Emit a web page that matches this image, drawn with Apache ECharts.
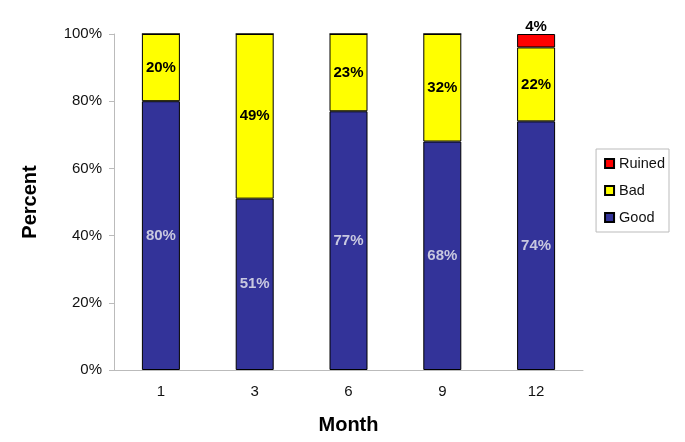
<!DOCTYPE html>
<html>
<head>
<meta charset="utf-8">
<script src="https://cdn.jsdelivr.net/npm/echarts@6/dist/echarts.min.js"></script>
<style>
html, body { margin: 0; padding: 0; background: #fff; }
#chart { width: 685px; height: 442px; }
</style>
</head>
<body>
<div id="chart"></div>
<script>
var months = ['1', '3', '6', '9', '12'];
var good = [80, 51, 77, 68, 74];
var bad = [20, 49, 23, 32, 22];
var ruined = [0, 0, 0, 0, 4];
var yTicks = [0, 20, 40, 60, 80, 100];

var font = 'Liberation Sans, Arial, Helvetica, sans-serif';

function pct(p) {
	return p.value > 0 ? p.value + '%' : '';
}

var myChart = echarts.init(document.getElementById('chart'));
myChart.setOption({
	animation : false,
	textStyle : { fontFamily : font },
	grid : { left : 114, right : 102, top : 34, bottom : 72 },
	legend : {
		orient : 'vertical',
		right : 16,
		top : 149,
		data : [ 'Ruined', 'Bad', 'Good' ],
		icon : 'rect',
		itemWidth : 9,
		itemHeight : 9,
		itemGap : 12,
		padding : [ 7, 4, 7, 8 ],
		borderColor : '#bbbbbb',
		borderWidth : 1,
		textStyle : { fontSize : 14.5, color : '#111', fontFamily : font }
	},
	xAxis : {
		type : 'category',
		data : months,
		name : 'Month',
		nameLocation : 'middle',
		nameGap : 45,
		nameTextStyle : { fontSize : 20, fontWeight : 'bold', color : '#000', fontFamily : font },
		axisLine : { lineStyle : { color : '#bbbbbb' } },
		axisTick : { lineStyle : { color : '#bbbbbb' }, length : 5 },
		axisLabel : { fontSize : 15, color : '#111', margin : 14 }
	},
	yAxis : {
		type : 'value',
		min : yTicks[0],
		max : yTicks[yTicks.length - 1],
		interval : 20,
		name : 'Percent',
		nameLocation : 'middle',
		nameGap : 74,
		nameTextStyle : { fontSize : 20, fontWeight : 'bold', color : '#000', fontFamily : font },
		axisLine : { show : true, lineStyle : { color : '#bbbbbb' } },
		axisTick : { show : true, length : 5, lineStyle : { color : '#bbbbbb' } },
		splitLine : { show : false },
		axisLabel : { fontSize : 15, color : '#111', margin : 12, formatter : '{value}%' }
	},
	series : [ {
		name : 'Good',
		type : 'bar',
		stack : 'all',
		barWidth : 38,
		data : good,
		itemStyle : { color : '#333399', borderColor : '#000', borderWidth : 1 },
		label : { show : true, position : 'inside', formatter : pct, color : '#c8c8e0', fontSize : 15, fontWeight : 'bold' }
	}, {
		name : 'Bad',
		type : 'bar',
		stack : 'all',
		barWidth : 38,
		data : bad,
		itemStyle : { color : '#ffff00', borderColor : '#000', borderWidth : 1 },
		label : { show : true, position : 'inside', formatter : pct, color : '#000', fontSize : 15, fontWeight : 'bold' }
	}, {
		name : 'Ruined',
		type : 'bar',
		stack : 'all',
		barWidth : 38,
		data : ruined,
		itemStyle : { color : '#ff0000', borderColor : '#000', borderWidth : 1 },
		label : { show : true, position : 'top', distance : 0, formatter : pct, color : '#000', fontSize : 15, fontWeight : 'bold' }
	} ]
});
</script>
</body>
</html>
